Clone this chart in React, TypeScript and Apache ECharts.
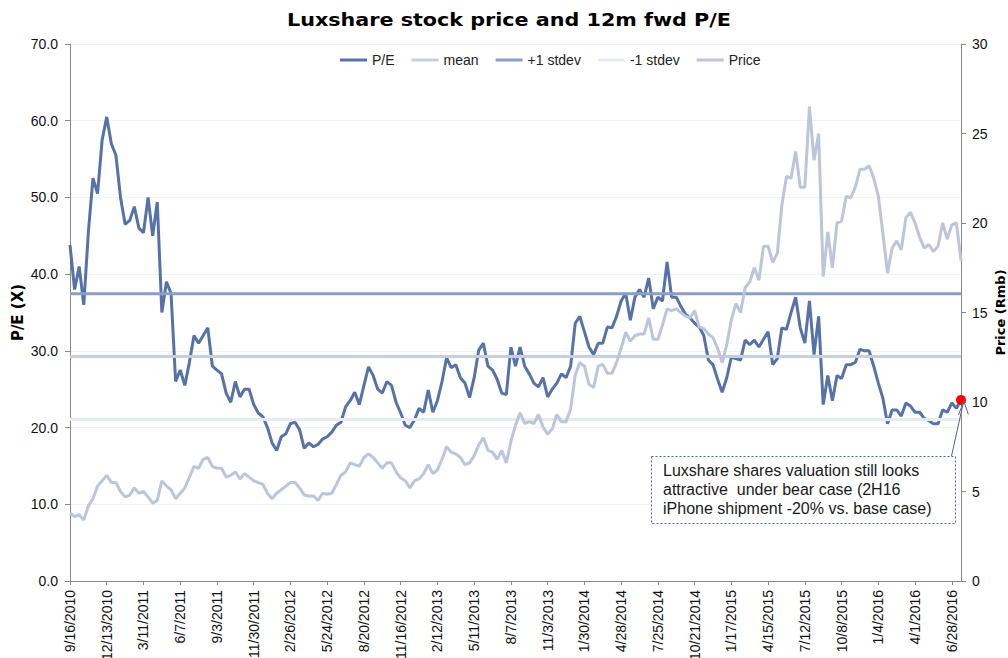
import React, { useEffect, useRef } from 'react';
import * as echarts from 'echarts';

// Sampling of the daily series: one reading every 11 calendar days from 9/16/2010
const START_DATE_UTC = Date.UTC(2010, 8, 16);
const STEP_DAYS = 11;
const LABEL_EVERY = 8; // 88-day label spacing on the x axis

const PE_VALUES = [
  43.8, 38.0, 41.0, 36.0, 45.5, 52.5, 50.5, 57.5, 60.5, 57.0,
  55.5, 50.0, 46.5, 47.0, 48.8, 46.0, 45.4, 50.0, 45.0, 49.4,
  35.0, 39.0, 37.5, 26.0, 27.5, 25.5, 28.5, 32.0, 31.0, 32.0,
  33.0, 28.0, 27.5, 27.0, 24.5, 23.3, 26.0, 24.0, 25.0, 25.0,
  23.0, 21.9, 21.4, 20.0, 18.0, 17.0, 18.8, 19.2, 20.5, 20.7,
  19.7, 17.3, 18.0, 17.5, 17.8, 18.5, 18.8, 19.4, 20.3, 20.7,
  22.7, 23.5, 24.6, 23.0, 25.5, 27.9, 26.8, 25.0, 24.5, 26.0,
  25.5, 23.3, 21.9, 20.3, 20.0, 21.0, 22.5, 22.0, 24.9, 22.0,
  23.5, 26.0, 29.1, 27.8, 28.2, 26.5, 25.8, 23.9, 26.5, 30.1,
  31.0, 28.0, 27.5, 26.3, 24.5, 24.3, 30.5, 28.0, 30.5, 28.0,
  27.0, 25.8, 25.3, 26.5, 24.0, 25.0, 25.8, 27.0, 26.5, 28.0,
  33.6, 34.5, 32.5, 30.5, 29.5, 31.0, 31.0, 33.1, 33.0, 34.5,
  36.5, 37.5, 34.0, 37.0, 38.0, 37.0, 39.5, 35.5, 37.0, 36.5,
  41.6, 37.0, 37.0, 35.8, 34.8, 34.3, 33.6, 33.1, 32.0, 28.8,
  28.2, 26.3, 24.6, 26.5, 29.2, 29.0, 28.8, 31.4, 30.8, 31.4,
  30.5, 31.5, 32.5, 28.2, 29.0, 33.0, 32.8, 35.0, 37.0, 33.0,
  31.0, 36.5, 29.5, 34.5, 23.0, 26.8, 23.5, 26.8, 26.4, 28.2,
  28.2, 28.5, 30.2, 30.0, 30.0, 28.0, 25.8, 23.8, 20.5, 22.3,
  22.3, 21.5, 23.2, 22.8, 22.0, 22.0, 21.2, 20.9, 20.5, 20.5,
  22.3, 22.0, 23.2, 22.5, 23.6,
];

const PRICE_VALUES = [
  3.8, 3.6, 3.7, 3.4, 4.2, 4.6, 5.3, 5.6, 5.9, 5.5,
  5.5, 5.0, 4.7, 4.8, 5.2, 4.9, 5.0, 4.7, 4.35, 4.5,
  5.6, 5.3, 5.1, 4.6, 4.9, 5.2, 5.8, 6.4, 6.3, 6.8,
  6.9, 6.4, 6.3, 6.3, 5.8, 5.9, 6.1, 5.7, 6.0, 5.8,
  5.6, 5.5, 5.4, 4.9, 4.6, 4.9, 5.1, 5.3, 5.5, 5.5,
  5.2, 4.8, 4.75, 4.75, 4.5, 4.9, 4.85, 4.9, 5.4, 5.9,
  6.1, 6.6, 6.5, 6.4, 6.9, 7.1, 6.9, 6.6, 6.3, 6.6,
  6.6, 6.1, 5.75, 5.6, 5.2, 5.6, 5.7, 6.0, 6.5, 6.0,
  6.2, 6.8, 7.5, 7.2, 7.1, 6.9, 6.5, 6.6, 7.0, 7.6,
  8.0, 7.3, 7.2, 6.8, 7.3, 6.6, 7.8, 8.7, 9.4, 8.8,
  8.9, 8.8, 9.3, 8.6, 8.2, 8.5, 9.3, 8.9, 8.9, 9.6,
  11.5, 12.2, 12.0, 11.0, 10.8, 12.0, 12.1, 11.6, 11.6, 12.2,
  13.0, 13.9, 13.4, 13.7, 13.8, 13.8, 14.7, 13.5, 13.5, 14.3,
  15.2, 15.1, 15.2, 15.0, 14.8, 14.7, 15.1, 14.2, 14.1, 13.8,
  13.6, 13.0, 12.2, 13.2, 14.6, 15.5, 15.0, 16.4, 16.7, 17.5,
  16.8, 18.7, 18.7, 17.8, 18.3, 21.0, 22.6, 22.5, 24.0, 22.0,
  22.0, 26.5, 23.5, 25.0, 17.0, 19.5, 17.5, 20.0, 20.1, 21.5,
  21.4, 22.0, 23.0, 23.0, 23.2, 22.5, 21.5, 19.4, 17.2, 18.6,
  19.0, 18.5, 20.3, 20.6, 20.0, 19.2, 18.6, 18.8, 18.4, 18.7,
  20.0, 19.1, 19.9, 20.0, 17.9,
];

const PE_MEAN = 29.25;
const PE_PLUS_1SD = 37.45;
const PE_MINUS_1SD = 21.05;

const LEGEND_NAMES = ['P/E', 'mean', '+1 stdev', '-1 stdev', 'Price'];
const TITLE = 'Luxshare stock price and 12m fwd P/E';
const LEFT_AXIS_NAME = 'P/E (X)';
const RIGHT_AXIS_NAME = 'Price (Rmb)';
const NOTE_TEXT =
  'Luxshare shares valuation still looks\nattractive  under bear case (2H16\niPhone shipment -20% vs. base case)';

const fmtDate = (t: number) => {
  const d = new Date(t);
  return `${d.getUTCMonth() + 1}/${d.getUTCDate()}/${d.getUTCFullYear()}`;
};
const CATEGORIES = PE_VALUES.map((_, i) => fmtDate(START_DATE_UTC + i * STEP_DAYS * 86400000));

const C_PE = '#5672a9';
const C_MEAN = '#c6cee1';
const C_PLUS = '#8c9ec4';
const C_MINUS = '#e6eaf2';
const C_PRICE = '#bcc5dc';
const AXIS_GRAY = '#8a8a8a';
const SANS = '"Liberation Sans", Arial, Helvetica, sans-serif';
const BOLD = '"DejaVu Sans", "Liberation Sans", Arial, sans-serif';

export default function App() {
  const ref = useRef<HTMLDivElement>(null);

  useEffect(() => {
    if (!ref.current) return;
    const chart = echarts.init(ref.current, undefined, { renderer: 'svg' });
    const last = PE_VALUES.length - 1;
    const lineSeries = (name: string, data: number[], color: string, yAxisIndex = 0) => ({
      name,
      type: 'line',
      yAxisIndex,
      data,
      symbol: 'none',
      showSymbol: false,
      lineStyle: { width: 3, color },
      itemStyle: { color },
      emphasis: { disabled: true },
    });

    chart.setOption({
      animation: false,
      backgroundColor: '#ffffff',
      grid: { left: 70, right: 47, top: 44, bottom: 77, containLabel: false, outerBoundsMode: 'none' },
      legend: {
        data: LEGEND_NAMES,
        icon: 'rect',
        left: 335,
        top: 48,
        itemWidth: 27,
        itemHeight: 3,
        itemGap: 17,
        textStyle: { fontSize: 14, color: '#222', fontFamily: SANS },
      },
      xAxis: {
        type: 'category',
        data: CATEGORIES,
        boundaryGap: false,
        axisLine: { show: true, lineStyle: { color: AXIS_GRAY, width: 1 } },
        axisTick: { show: true, interval: LABEL_EVERY - 1, length: 4, lineStyle: { color: AXIS_GRAY } },
        axisLabel: {
          interval: LABEL_EVERY - 1,
          rotate: 90,
          fontSize: 14,
          margin: 9,
          color: '#111',
          fontFamily: SANS,
        },
        splitLine: { show: false },
      },
      yAxis: [
        {
          type: 'value',
          position: 'left',
          min: 0,
          max: 70,
          interval: 10,
          name: LEFT_AXIS_NAME,
          nameLocation: 'middle',
          nameGap: 45,
          nameMoveOverlap: false,
          nameTextStyle: { fontWeight: 'bold', fontSize: 15, fontFamily: BOLD, color: '#000' },
          axisLine: { show: true, lineStyle: { color: AXIS_GRAY } },
          axisTick: { show: true, length: 5, lineStyle: { color: AXIS_GRAY } },
          axisLabel: {
            formatter: (v: number) => v.toFixed(1),
            fontSize: 14,
            margin: 12,
            color: '#111',
            fontFamily: SANS,
          },
          splitLine: { show: true, lineStyle: { color: '#f1f1f1', width: 1 } },
        },
        {
          type: 'value',
          position: 'right',
          min: 0,
          max: 30,
          interval: 5,
          name: RIGHT_AXIS_NAME,
          nameLocation: 'middle',
          nameGap: 33,
          nameMoveOverlap: false,
          nameTextStyle: { fontWeight: 'bold', fontSize: 13, fontFamily: BOLD, color: '#000' },
          axisLine: { show: true, lineStyle: { color: AXIS_GRAY } },
          axisTick: { show: true, length: 5, lineStyle: { color: AXIS_GRAY } },
          axisLabel: { fontSize: 14, margin: 11, color: '#111', fontFamily: SANS },
          splitLine: { show: false },
        },
      ],
      series: [
        {
          ...lineSeries('P/E', PE_VALUES, C_PE),
          markPoint: {
            silent: true,
            symbol: 'circle',
            symbolSize: 10,
            label: { show: false },
            itemStyle: { color: '#ff0000' },
            data: [{ coord: [CATEGORIES[last], PE_VALUES[last]] }],
          },
        },
        lineSeries('mean', CATEGORIES.map(() => PE_MEAN), C_MEAN),
        lineSeries('+1 stdev', CATEGORIES.map(() => PE_PLUS_1SD), C_PLUS),
        lineSeries('-1 stdev', CATEGORIES.map(() => PE_MINUS_1SD), C_MINUS),
        lineSeries('Price', PRICE_VALUES, C_PRICE, 1),
      ],
      graphic: [
        {
          type: 'text',
          x: 509,
          y: 20,
          scaleX: 1.15,
          style: {
            text: TITLE,
            fontSize: 18,
            fontWeight: 'bold',
            fontFamily: BOLD,
            fill: '#000',
            align: 'center',
            verticalAlign: 'middle',
          },
        },
        {
          type: 'rect',
          shape: { x: 651.5, y: 456.5, width: 304, height: 67 },
          style: { fill: '#ffffff', stroke: '#55658e', lineWidth: 1, lineDash: [2, 2] },
          z: 10,
        },
        {
          type: 'text',
          x: 663,
          y: 461,
          z: 11,
          style: {
            text: NOTE_TEXT,
            fontSize: 16,
            fontFamily: SANS,
            fill: '#1a1a1a',
            lineHeight: 19,
            verticalAlign: 'top',
            align: 'left',
          },
        },
        {
          type: 'line',
          z: 10,
          shape: { x1: 951.5, y1: 456, x2: 963.5, y2: 402 },
          style: { stroke: '#55658e', lineWidth: 1 },
        },
        {
          type: 'polyline',
          z: 10,
          shape: { points: [[958.5, 415], [963.8, 401], [968.3, 414.5]] },
          style: { stroke: '#55658e', lineWidth: 1, fill: 'none' },
        },
      ],
    });

    return () => chart.dispose();
  }, []);

  return (
    <div
      ref={ref}
      style={{ position: 'fixed', left: 0, top: 0, width: 1008, height: 658, background: '#fff' }}
    />
  );
}
